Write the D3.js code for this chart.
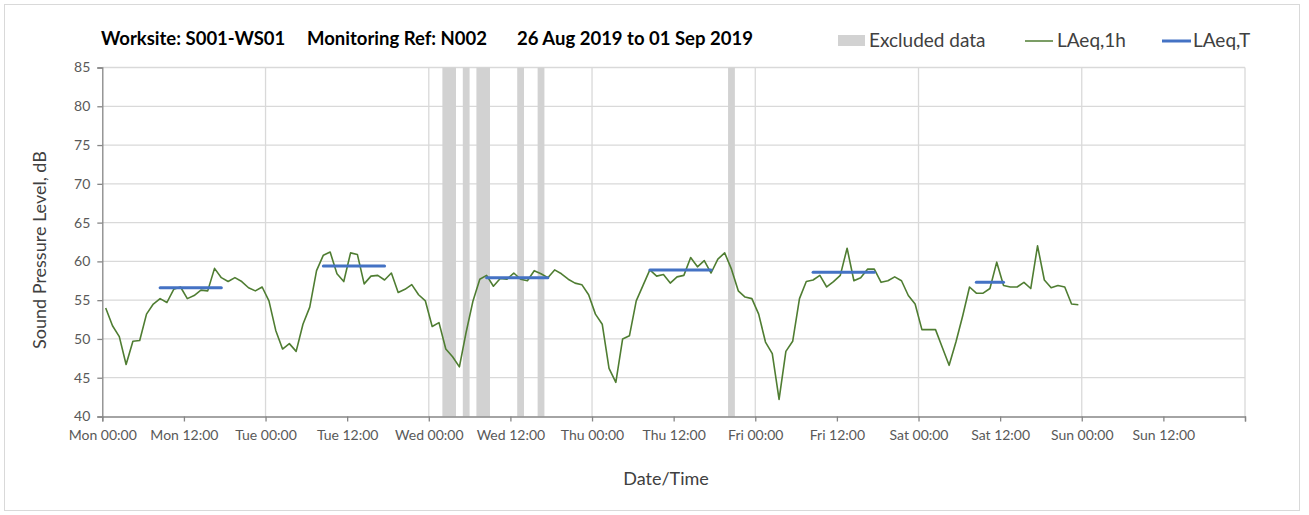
<!DOCTYPE html>
<html><head><meta charset="utf-8">
<script src="https://cdn.jsdelivr.net/npm/d3@7"></script>
<style>
body{margin:0;background:#fff;}
svg{display:block;font-family:Lato,"Open Sans",sans-serif;}
</style></head><body>
<svg id="chart" width="1309" height="515"></svg>
<script>
// ---- data ----
const titleParts = ["Worksite: S001-WS01", "Monitoring Ref: N002", "26 Aug 2019 to 01 Sep 2019"];
const dayDates = ["2019-08-26","2019-08-27","2019-08-28","2019-08-29","2019-08-30","2019-08-31"];
// hourly LAeq,1h values (hour 00-01 ... 23-24) per day
const laeqMon = [54.0,51.7,50.3,46.7,49.7,49.8,53.2,54.5,55.2,54.7,56.4,56.7,55.2,55.6,56.3,56.2,59.1,57.9,57.4,57.9,57.4,56.6,56.2,56.7];
const laeqTue = [54.9,51.1,48.7,49.4,48.4,51.9,54.1,58.8,60.8,61.2,58.4,57.4,61.1,60.9,57.1,58.1,58.2,57.6,58.5,56.0,56.4,57.0,55.7,54.9];
const laeqWed = [51.6,52.1,48.7,47.7,46.4,50.9,54.9,57.7,58.2,56.8,57.8,57.7,58.5,57.7,57.5,58.8,58.4,57.9,58.9,58.4,57.7,57.2,57.0,55.7];
const laeqThu = [53.2,51.9,46.2,44.4,50.0,50.4,54.9,56.9,58.9,58.1,58.3,57.2,58.0,58.2,60.5,59.3,60.1,58.5,60.3,61.1,59.0,56.2,55.4,55.2];
const laeqFri = [53.2,49.6,48.1,42.2,48.4,49.7,55.2,57.4,57.6,58.2,56.7,57.4,58.2,61.7,57.5,57.9,59.0,59.0,57.3,57.5,58.0,57.5,55.6,54.5];
const laeqSat = [51.2,51.2,51.2,48.9,46.6,49.6,53.0,56.7,55.9,55.9,56.5,59.9,56.9,56.7,56.7,57.3,56.5,62.0,57.6,56.6,56.9,56.7,54.5,54.4];
// LAeq,T (daytime period) per day
const periodStart = ["08:00","08:00","08:00","08:00","08:00","08:00"];
const periodEnd   = ["18:00","18:00","18:00","18:00","18:00","13:00"];
const laeqT = [56.6,59.4,57.9,58.9,58.6,57.3];
// excluded data periods
const excludedStart = ["2019-08-28T02:00","2019-08-28T05:00","2019-08-28T07:00","2019-08-28T13:00","2019-08-28T16:00","2019-08-29T20:00"];
const excludedEnd   = ["2019-08-28T04:00","2019-08-28T06:00","2019-08-28T09:00","2019-08-28T14:00","2019-08-28T17:00","2019-08-29T21:00"];
const yTicks = [40,45,50,55,60,65,70,75,80,85];
const legendLabels = ["Excluded data","LAeq,1h","LAeq,T"];

// ---- setup ----
const parse = d3.utcParse("%Y-%m-%dT%H:%M");
const svg = d3.select("#chart");
const m = {left:102.3, right:1245, top:67.5, bottom:416.5};
const col = {green:"#4F7D32", blue:"#4472C4", bar:"#D2D2D2", grid:"#D9D9D9", axis:"#868686", text:"#595959"};

svg.append("rect").attr("x",4.5).attr("y",4.5).attr("width",1295).attr("height",506)
  .attr("fill","#fff").attr("stroke","#D9D9D9");

const t0 = parse("2019-08-26T00:00"), t1 = parse("2019-09-02T00:00");
const x = d3.scaleUtc().domain([t0,t1]).range([m.left,m.right]);
const y = d3.scaleLinear().domain([40,85]).range([m.bottom,m.top]);

const allVals = [laeqMon,laeqTue,laeqWed,laeqThu,laeqFri,laeqSat];
const series = [];
allVals.forEach((arr,di)=>arr.forEach((v,h)=>{
  series.push({t: new Date(parse(dayDates[di]+"T00:00").getTime() + (h+0.5)*3600e3), v});
}));

// gridlines
const g = svg.append("g");
g.selectAll("line.hg").data(yTicks.slice(1)).join("line")
  .attr("x1",m.left).attr("x2",m.right).attr("y1",d=>y(d)).attr("y2",d=>y(d))
  .attr("stroke",col.grid).attr("stroke-width",1.3);
g.selectAll("line.vg").data(d3.utcDay.range(d3.utcDay.offset(t0,1), d3.utcDay.offset(t1,1))).join("line")
  .attr("x1",d=>x(d)).attr("x2",d=>x(d)).attr("y1",m.top).attr("y2",m.bottom)
  .attr("stroke",col.grid).attr("stroke-width",1.3);

// excluded bars
svg.append("g").selectAll("rect").data(excludedStart.map((s,i)=>({s:parse(s),e:parse(excludedEnd[i])}))).join("rect")
  .attr("x",d=>x(d.s)).attr("width",d=>x(d.e)-x(d.s))
  .attr("y",m.top).attr("height",m.bottom-m.top).attr("fill",col.bar);

// axes
const xAxis = d3.axisBottom(x).tickValues(d3.utcHour.every(12).range(t0, d3.utcHour.offset(t1,1)))
  .tickSize(5).tickPadding(9).tickFormat(d=> +d===+t1 ? "" : d3.utcFormat("%a %H:%M")(d));
const gx = svg.append("g").attr("transform",`translate(0,${m.bottom})`).call(xAxis);
const yAxis = d3.axisLeft(y).tickValues(yTicks).tickSize(5).tickPadding(7);
const gy = svg.append("g").attr("transform",`translate(${m.left},0)`).call(yAxis);
[gx,gy].forEach(a=>{
  a.select(".domain").attr("stroke",col.axis).attr("stroke-width",1.3);
  a.selectAll(".tick line").attr("stroke",col.axis).attr("stroke-width",1.3);
  a.selectAll("text").attr("fill",col.text).style("font-size","14px").style("font-family","Lato,sans-serif");
});

// LAeq,1h line
svg.append("path").datum(series)
  .attr("fill","none").attr("stroke",col.green).attr("stroke-width",1.6).attr("stroke-linejoin","round")
  .attr("d", d3.line().x(d=>x(d.t)).y(d=>y(d.v)));

// LAeq,T segments
const segs = laeqT.map((v,i)=>({
  s: new Date(parse(dayDates[i]+"T"+periodStart[i]).getTime()+1800e3),
  e: new Date(parse(dayDates[i]+"T"+periodEnd[i]).getTime()-1800e3), v}));
svg.append("g").selectAll("line").data(segs).join("line")
  .attr("x1",d=>x(d.s)).attr("x2",d=>x(d.e)).attr("y1",d=>y(d.v)).attr("y2",d=>y(d.v))
  .attr("stroke",col.blue).attr("stroke-width",3).attr("stroke-linecap","round");

// title
const titleX = [101,307,517];
svg.append("g").selectAll("text").data(titleParts).join("text")
  .attr("x",(d,i)=>titleX[i]).attr("y",45).text(d=>d)
  .attr("fill","#000").style("font-weight","bold").style("font-size","18.5px");

// legend
const lg = svg.append("g").attr("fill","#404040").style("font-size","19px");
lg.append("rect").attr("x",838).attr("y",35).attr("width",27).attr("height",11).attr("fill",col.bar);
lg.append("text").attr("x",869).attr("y",47).text(legendLabels[0]);
lg.append("line").attr("x1",1025).attr("x2",1053).attr("y1",41).attr("y2",41).attr("stroke",col.green).attr("stroke-width",1.5);
lg.append("text").attr("x",1057).attr("y",47).text(legendLabels[1]);
lg.append("line").attr("x1",1162).attr("x2",1191).attr("y1",41).attr("y2",41).attr("stroke",col.blue).attr("stroke-width",3);
lg.append("text").attr("x",1193).attr("y",47).text(legendLabels[2]);

// axis titles
svg.append("text").attr("transform",`translate(46,250) rotate(-90)`)
  .attr("text-anchor","middle").attr("fill","#404040").style("font-size","18px").text("Sound Pressure Level, dB");
svg.append("text").attr("x",666).attr("y",485).attr("text-anchor","middle")
  .attr("fill","#404040").style("font-size","18px").text("Date/Time");
</script>
</body></html>
